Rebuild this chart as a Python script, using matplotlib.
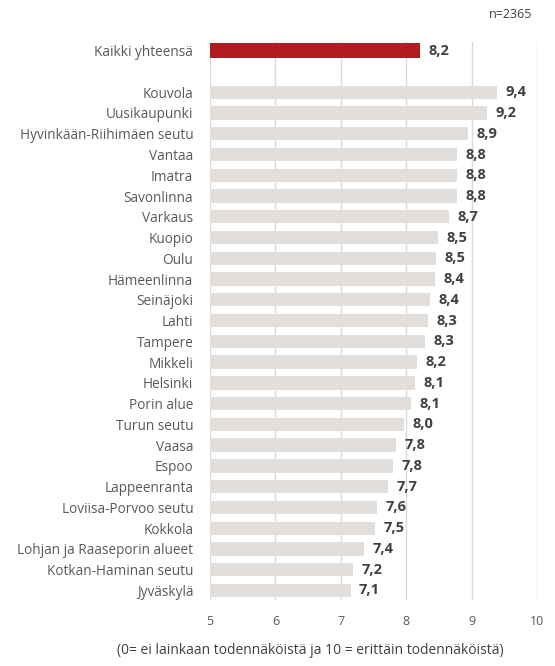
import matplotlib
matplotlib.use('Agg')
import matplotlib.pyplot as plt
import numpy as np

# data
total_label = 'Kaikki yhteensä'
total_value = 8.21
total_text = '8,2'

regions = [
    'Kouvola', 'Uusikaupunki', 'Hyvinkään-Riihimäen seutu', 'Vantaa', 'Imatra',
    'Savonlinna', 'Varkaus', 'Kuopio', 'Oulu', 'Hämeenlinna', 'Seinäjoki',
    'Lahti', 'Tampere', 'Mikkeli', 'Helsinki', 'Porin alue', 'Turun seutu',
    'Vaasa', 'Espoo', 'Lappeenranta', 'Loviisa-Porvoo seutu', 'Kokkola',
    'Lohjan ja Raaseporin alueet', 'Kotkan-Haminan seutu', 'Jyväskylä',
]
values = [
    9.39, 9.23, 8.94, 8.78, 8.78, 8.78, 8.65, 8.49, 8.45, 8.44, 8.37,
    8.33, 8.29, 8.17, 8.13, 8.08, 7.96, 7.84, 7.80, 7.72, 7.56, 7.52,
    7.35, 7.19, 7.15,
]
value_texts = [
    '9,4', '9,2', '8,9', '8,8', '8,8', '8,8', '8,7', '8,5', '8,5', '8,4', '8,4',
    '8,3', '8,3', '8,2', '8,1', '8,1', '8,0', '7,8', '7,8', '7,7', '7,6', '7,5',
    '7,4', '7,2', '7,1',
]
x_ticks = [5, 6, 7, 8, 9, 10]

plt.rcParams['font.family'] = ['Open Sans', 'DejaVu Sans']

fig = plt.figure(figsize=(5.55, 6.66), dpi=100)
ax = fig.add_axes([210 / 555, 66 / 666, 327 / 555, 558 / 666])

base = 5
pos_total = 0
pos = np.arange(len(regions)) + 2

ax.barh(pos_total, total_value - base, left=base, height=0.72,
        color='#B11C21', zorder=3)
ax.barh(pos, np.array(values) - base, left=base, height=0.64,
        color='#E1DEDB', zorder=3)

ax.text(total_value + 0.13, pos_total, total_text, va='center', ha='left',
        fontsize=10.5, fontweight='bold', color='#404040')
for p, v, t in zip(pos, values, value_texts):
    ax.text(v + 0.13, p, t, va='center', ha='left',
            fontsize=10.5, fontweight='bold', color='#404040')

ax.set_yticks([pos_total] + list(pos))
ax.set_yticklabels([total_label] + regions, fontsize=9.8, color='#595959')
ax.set_xticks(x_ticks)
ax.set_xticklabels([str(t) for t in x_ticks], fontsize=9, color='#595959')
ax.tick_params(axis='y', length=0, pad=12)
ax.tick_params(axis='x', length=0, pad=11)

ax.set_xlim(5, 10)
ax.set_ylim(pos[-1] + 0.46, -0.42)
ax.xaxis.grid(True, color='#D9D9D9', linewidth=1, zorder=0)
ax.set_axisbelow(True)
for s in ax.spines.values():
    s.set_visible(False)

fig.text(310 / 555, 1 - 650 / 666,
         '(0= ei lainkaan todennäköistä ja 10 = erittäin todennäköistä)',
         ha='center', va='center', fontsize=10, color='#404040')
fig.text(532 / 555, 1 - 15 / 666, 'n=2365', ha='right', va='center',
         fontsize=9, color='#404040')

fig.savefig('out.png', dpi=100)
